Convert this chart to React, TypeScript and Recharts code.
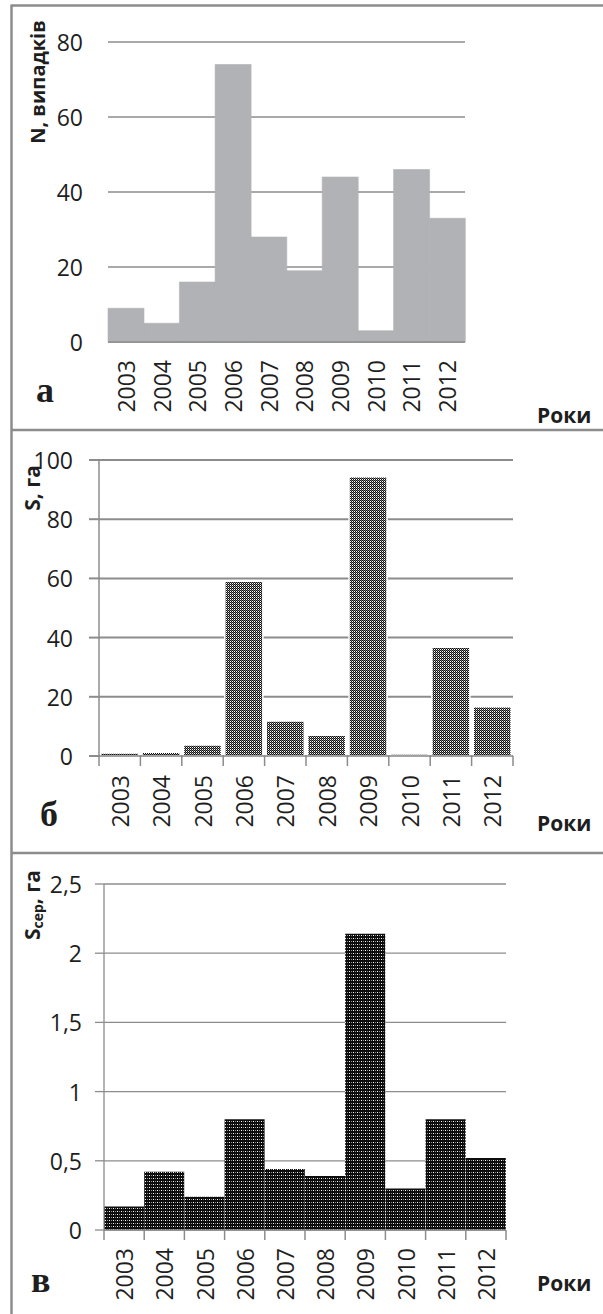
import React from 'react';
import { BarChart, Bar, XAxis, YAxis, CartesianGrid } from 'recharts';

const years = ['2003', '2004', '2005', '2006', '2007', '2008', '2009', '2010', '2011', '2012'];
const countValues = [9, 5, 16, 74, 28, 19, 44, 3, 46, 33];
const areaValues = [1, 1.3, 3.7, 59, 11.8, 7, 94.3, 0.7, 36.7, 16.6];
const meanAreaValues = [0.17, 0.42, 0.24, 0.8, 0.44, 0.39, 2.14, 0.3, 0.8, 0.52];
const countTicks = [0, 20, 40, 60, 80];
const areaTicks = [0, 20, 40, 60, 80, 100];
const meanTicks = [0, 0.5, 1, 1.5, 2, 2.5];

const data1 = years.map((y, i) => ({ year: y, v: countValues[i] }));
const data2 = years.map((y, i) => ({ year: y, v: areaValues[i] }));
const data3 = years.map((y, i) => ({ year: y, v: meanAreaValues[i] }));

const W = 603;
const FONT = "'Open Sans', 'DejaVu Sans', sans-serif";
const TEXT = '#1e1e1e';
const GRID = '#8c8c8c';
const TICK_FS = 23;

const fmtComma = (v: number) => String(v).replace('.', ',');

const YTick = (props: any) => {
  const { x, y, payload, fmt } = props;
  return (
    <text x={x} y={y} textAnchor="end" dominantBaseline="central" fontFamily={FONT} fontSize={TICK_FS} fill={TEXT}>
      {fmt ? fmt(payload.value) : payload.value}
    </text>
  );
};

const makeXTick = (half: number, boundaries: boolean, gap: number) => (props: any) => {
  const { x, y, payload, index } = props;
  return (
    <g>
      {boundaries && <line x1={x - half} y1={y} x2={x - half} y2={y + 10} stroke={GRID} strokeWidth={1.5} />}
      {boundaries && index === years.length - 1 && (
        <line x1={x + half} y1={y} x2={x + half} y2={y + 10} stroke={GRID} strokeWidth={1.5} />
      )}
      <text
        transform={`translate(${x},${y + gap}) rotate(-90)`}
        textAnchor="end"
        dominantBaseline="central"
        fontFamily={FONT}
        fontSize={TICK_FS}
        fill={TEXT}
      >
        {payload.value}
      </text>
    </g>
  );
};

// panel layouts
const p1 = { top: 0, h: 430, left: 108, right: 138, mTop: 42, xh: 88 };
const p2 = { top: 430, h: 423, left: 99, right: 90, mTop: 30, xh: 97 };
const p3 = { top: 853, h: 461, left: 104, right: 97, mTop: 31, xh: 84 };

const half = (p: any) => (W - p.left - p.right) / years.length / 2;

export default function App() {
  return (
    <div style={{ position: 'absolute', left: 0, top: 0, width: W, height: 1314, background: '#fff', overflow: 'hidden' }}>
      {/* Panel a */}
      <div style={{ position: 'absolute', left: 0, top: p1.top }}>
        <BarChart width={W} height={p1.h} data={data1} margin={{ top: p1.mTop, right: p1.right, bottom: 0, left: 0 }} barCategoryGap={0}>
          <CartesianGrid vertical={false} stroke={GRID} strokeWidth={1.6} />
          <XAxis
            dataKey="year"
            height={p1.xh}
            interval={0}
            tickSize={0}
            tickMargin={0}
            tickLine={false}
            axisLine={{ stroke: GRID, strokeWidth: 1.6 }}
            tick={makeXTick(half(p1), false, 18)}
          />
          <YAxis
            width={p1.left}
            domain={[0, 80]}
            ticks={countTicks}
            interval={0}
            axisLine={false}
            tickLine={false}
            tickSize={0}
            tickMargin={25}
            tick={<YTick />}
          />
          <Bar dataKey="v" fill="#b1b2b5" stroke="#b1b2b5" strokeWidth={0.6} isAnimationActive={false} />
        </BarChart>
      </div>

      {/* Panel b */}
      <div style={{ position: 'absolute', left: 0, top: p2.top }}>
        <BarChart width={W} height={p2.h} data={data2} margin={{ top: p2.mTop, right: p2.right, bottom: 0, left: 0 }} barCategoryGap="4%">
          <defs>
            <pattern id="patB" patternUnits="userSpaceOnUse" x={0} y={0} width={2} height={2}>
              <rect x={0} y={0} width={2} height={2} fill="#ffffff" />
              <rect x={0} y={0} width={1} height={1} fill="#111111" />
              <rect x={1} y={1} width={1} height={1} fill="#111111" />
              <rect x={1} y={0} width={1} height={1} fill="#777777" />
            </pattern>
          </defs>
          <CartesianGrid vertical={false} stroke={GRID} strokeWidth={2} />
          <XAxis
            dataKey="year"
            height={p2.xh}
            interval={0}
            tickSize={0}
            tickMargin={0}
            tickLine={false}
            axisLine={{ stroke: GRID, strokeWidth: 1.6 }}
            tick={makeXTick(half(p2), true, 19)}
          />
          <YAxis
            width={p2.left}
            domain={[0, 100]}
            ticks={areaTicks}
            interval={0}
            axisLine={{ stroke: GRID, strokeWidth: 1.5 }}
            tickLine={{ stroke: GRID, strokeWidth: 2 }}
            tickSize={10}
            tickMargin={16}
            tick={<YTick />}
          />
          <Bar dataKey="v" fill="url(#patB)" stroke="#ffffff" strokeWidth={1.5} isAnimationActive={false} />
        </BarChart>
      </div>

      {/* Panel c */}
      <div style={{ position: 'absolute', left: 0, top: p3.top }}>
        <BarChart width={W} height={p3.h} data={data3} margin={{ top: p3.mTop, right: p3.right, bottom: 0, left: 0 }} barCategoryGap={0}>
          <defs>
            <pattern id="patC" patternUnits="userSpaceOnUse" x={0} y={0} width={4} height={3}>
              <rect x={0} y={0} width={4} height={3} fill="#0c0c0c" />
              <rect x={1} y={1} width={1} height={1} fill="#ffffff" />
              <rect x={3} y={1} width={1} height={1} fill="#8a8a8a" />
            </pattern>
          </defs>
          <CartesianGrid vertical={false} stroke={GRID} strokeWidth={1.3} />
          <XAxis
            dataKey="year"
            height={p3.xh}
            interval={0}
            tickSize={0}
            tickMargin={0}
            tickLine={false}
            axisLine={{ stroke: GRID, strokeWidth: 1.5 }}
            tick={makeXTick(half(p3), true, 18)}
          />
          <YAxis
            width={p3.left}
            domain={[0, 2.5]}
            ticks={meanTicks}
            interval={0}
            axisLine={{ stroke: GRID, strokeWidth: 1.3 }}
            tickLine={{ stroke: GRID, strokeWidth: 1.3 }}
            tickSize={9}
            tickMargin={13}
            tick={<YTick fmt={fmtComma} />}
          />
          <Bar dataKey="v" fill="url(#patC)" isAnimationActive={false} />
        </BarChart>
      </div>

      {/* Frames and annotations */}
      <svg width={W} height={1314} style={{ position: 'absolute', left: 0, top: 0, pointerEvents: 'none' }}>
        <line x1={11.5} y1={5.5} x2={W} y2={5.5} stroke={GRID} strokeWidth={2.5} />
        <line x1={11.5} y1={4.5} x2={11.5} y2={1314} stroke={GRID} strokeWidth={2.5} />
        <line x1={11.5} y1={430} x2={W} y2={430} stroke={GRID} strokeWidth={2.5} />
        <line x1={11.5} y1={853} x2={W} y2={853} stroke={GRID} strokeWidth={2.5} />

        <text transform="translate(37,82) rotate(-90)" textAnchor="middle" dominantBaseline="central" fontFamily={FONT} fontWeight={700} fontSize={20} fill={TEXT}>
          N, випадків
        </text>
        <text transform="translate(32,488) rotate(-90)" textAnchor="middle" dominantBaseline="central" fontFamily={FONT} fontWeight={700} fontSize={21} fill={TEXT}>
          S, га
        </text>
        <text transform="translate(32,905) rotate(-90)" textAnchor="middle" dominantBaseline="central" fontFamily={FONT} fontWeight={700} fontSize={21} fill={TEXT}>
          S<tspan dy={5} fontSize={14}>сер</tspan><tspan dy={-5}>, га</tspan>
        </text>

        <text x={36} y={402} fontFamily="'Liberation Serif', serif" fontWeight={700} fontSize={36} fill={TEXT}>а</text>
        <text x={40} y={826} fontFamily="'Liberation Serif', serif" fontWeight={700} fontSize={36} fill={TEXT}>б</text>
        <text x={31} y={1292} fontFamily="'Liberation Serif', serif" fontWeight={700} fontSize={36} fill={TEXT}>в</text>

        <text x={537} y={423} fontFamily={FONT} fontWeight={700} fontSize={21} fill={TEXT}>Роки</text>
        <text x={537} y={831} fontFamily={FONT} fontWeight={700} fontSize={21} fill={TEXT}>Роки</text>
        <text x={537} y={1291} fontFamily={FONT} fontWeight={700} fontSize={21} fill={TEXT}>Роки</text>
      </svg>
    </div>
  );
}
